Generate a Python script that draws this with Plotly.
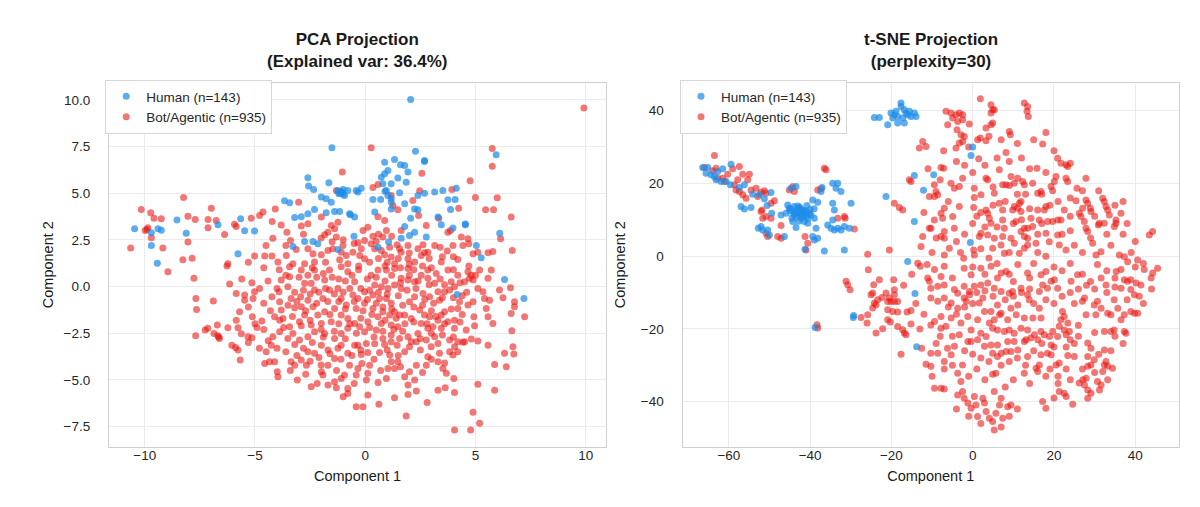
import plotly.graph_objects as go
from plotly.subplots import make_subplots

# PCA panel (component 1, component 2)
pca_human = [
    (-1.51, 7.43), (-2.60, 5.83), (-1.65, 5.56), (-1.09, 5.06), (-1.24, 5.13), (-0.94, 4.88),
    (-0.79, 5.15), (-1.15, 5.00), (-1.00, 5.20), (-2.57, 5.38), (-2.34, 5.20), (-1.99, 4.79),
    (-1.77, 4.70), (-1.54, 4.52), (-0.41, 5.15), (-3.66, 4.59), (-3.43, 4.49), (-2.30, 4.13),
    (-2.60, 3.90), (-2.90, 3.74), (-3.20, 3.70), (-1.77, 3.95), (-1.39, 4.02), (-1.16, 4.02),
    (-0.71, 3.90), (-0.48, 3.72), (-5.65, 3.63), (-5.47, 2.99), (-5.02, 2.97), (-6.68, 3.31),
    (-8.54, 3.56), (-8.12, 2.86), (-10.46, 3.09), (-9.70, 2.88), (-9.40, 3.09), (-9.25, 3.02),
    (-9.70, 2.20), (-3.28, 2.15), (-2.75, 2.41), (-2.37, 2.41), (-2.15, 2.29), (-5.77, 1.75),
    (-9.43, 1.25), (-1.24, 1.99), (-0.51, 2.70), (-0.67, 3.84), (-1.10, 5.10), (-1.20, 4.98),
    (-1.00, 4.95),
    (2.06, 10.02), (2.28, 7.25), (5.94, 7.06), (2.69, 6.70), (2.69, 6.75), (1.33, 6.81),
    (0.88, 6.66), (1.60, 6.52), (1.79, 6.49), (1.94, 6.13), (0.88, 6.04), (0.73, 5.86),
    (1.48, 5.81), (1.86, 5.59), (1.03, 6.22), (1.18, 5.50), (0.80, 5.50), (0.96, 5.15),
    (0.90, 5.10), (1.03, 4.88), (1.18, 4.70), (-0.18, 5.27), (-0.33, 5.06), (0.35, 4.66),
    (0.70, 4.66), (1.18, 4.52), (1.56, 5.02), (1.79, 4.43), (2.39, 4.88), (2.69, 5.00),
    (3.15, 5.06), (3.52, 5.15), (3.75, 4.65), (4.08, 4.66), (4.13, 5.27), (0.43, 3.99),
    (1.18, 4.16), (2.24, 4.16), (2.39, 4.11), (2.06, 3.66), (1.79, 3.22), (1.63, 2.59),
    (2.01, 2.74), (2.24, 2.91), (2.77, 2.65), (3.30, 3.72), (3.45, 3.31), (3.98, 3.13),
    (4.54, 3.31), (4.54, 3.35), (6.10, 2.86), (5.04, 2.20), (5.26, 1.54), (3.87, 4.13),
    (1.06, 2.38), (0.58, 2.11), (6.32, 0.38), (7.20, -0.64), (4.17, -0.42),
]

pca_bot = [
    # upper left
    (-1.04, 6.13), (-1.31, 5.15), (-3.02, 4.52), (-4.08, 4.15), (-4.64, 3.99), (-4.79, 3.81),
    (-5.17, 3.66), (-5.93, 3.33), (-5.85, 3.22), (-6.38, 2.79), (-6.98, 4.20), (-7.13, 3.59),
    (-6.76, 3.54), (-7.13, 3.15), (-7.71, 3.59), (-8.04, 3.77), (-8.24, 4.77), (-10.16, 4.13),
    (-9.73, 3.95), (-9.58, 3.66), (-9.25, 3.63), (-9.86, 3.15), (-9.98, 3.00), (-9.90, 3.05),
    (-9.70, 2.61), (-9.18, 2.06), (-10.64, 2.06), (-8.04, 2.38), (-8.27, 1.43), (-7.85, 1.52),
    (-4.22, 3.49), (-3.81, 3.29), (-3.55, 2.91), (-2.90, 3.24), (-2.60, 3.36), (-1.99, 3.72),
    (-1.54, 3.27), (-1.39, 3.09), (-1.69, 2.91), (-1.84, 2.77), (-1.24, 3.45), (-4.19, 2.59),
    (-3.39, 2.47), (-3.13, 1.99), (-2.60, 2.02), (-2.37, 1.75), (-1.99, 1.70), (-1.69, 1.93),
    (-1.47, 2.02), (-1.09, 1.84), (-0.86, 1.66), (-0.56, 1.84), (-5.02, 1.63), (-4.56, 1.63),
    (-4.23, 1.63), (-3.58, 1.66), (-3.96, 1.31), (-1.31, 2.65), (-1.01, 2.20), (-1.16, 1.43),
    (-0.79, 1.22), (-3.28, 1.22), (-2.75, 1.22), (-2.30, 1.31), (-6.23, 1.22),
    # upper right
    (9.92, 9.57), (0.27, 7.43), (5.76, 7.40), (5.76, 6.45), (2.57, 6.07), (4.76, 5.66),
    (2.47, 5.13), (3.93, 5.20), (0.35, 5.31), (0.58, 5.47), (1.18, 4.88), (5.00, 4.77),
    (5.99, 4.75), (5.46, 4.11), (5.82, 4.11), (4.24, 4.20), (6.62, 3.72), (0.58, 3.74),
    (1.48, 4.11), (1.26, 4.34), (2.16, 4.61), (2.42, 3.81), (2.77, 3.27), (3.34, 3.66),
    (3.75, 2.91), (3.87, 3.00), (4.36, 2.65), (4.66, 2.56), (4.70, 2.29), (6.14, 2.56),
    (6.67, 1.93), (5.79, 1.88), (5.57, 1.81), (4.89, 1.75), (4.20, 1.45), (3.72, 1.90),
    (3.15, 2.20), (2.84, 1.84), (2.62, 2.24), (2.39, 2.02), (1.94, 2.20), (1.56, 2.02),
    (1.45, 2.24), (1.11, 2.11), (0.80, 2.65), (0.96, 3.00), (0.12, 3.18), (-0.10, 3.00),
    (0.35, 2.70), (-0.03, 2.47), (0.27, 2.29), (0.50, 2.42), (-0.33, 2.34), (-0.18, 2.02),
    (0.43, 2.02), (0.73, 1.93), (0.88, 1.70), (1.18, 1.58), (1.63, 1.84), (1.94, 1.49),
    (2.24, 1.31), (2.54, 1.66), (2.69, 1.81), (1.33, 1.22), (-0.03, 1.49), (-0.25, 1.66),
    (3.45, 1.31), (3.98, 2.20), (4.43, 2.20), (5.11, 1.84), (1.63, 3.00), (0.88, 3.54),
    # lower left
    (-8.95, 0.79), (-7.77, 0.44), (-6.27, 1.10), (-6.15, 0.13), (-7.68, -0.64), (-7.65, -1.23),
    (-6.89, -0.78), (-7.69, -2.64), (-7.26, -2.33), (-7.14, -2.24), (-6.86, -2.51), (-6.68, -2.64),
    (-6.61, -2.78), (-6.65, -2.70), (-6.71, -2.06), (-6.23, -2.21), (-5.77, -2.21), (-6.05, -3.14),
    (-5.88, -3.26), (-5.77, -3.40), (-5.67, -3.94), (-5.62, -2.53), (-5.32, -2.69), (-5.14, -2.74),
    (-5.85, -0.37), (-5.47, -0.46), (-5.47, -0.73), (-5.70, -1.35), (-5.85, -1.80), (-5.09, -0.64),
    (-5.12, -1.62), (-4.91, -2.19), (-4.69, -1.85), (-5.02, -0.28), (-4.79, -0.10), (-5.14, 0.20),
    (-4.41, 0.29), (-4.23, -0.55), (-3.91, -0.28), (-3.88, -0.81), (-3.81, -1.26), (-3.81, 0.35),
    (-3.43, 0.52), (-3.51, -0.01), (-3.36, -0.64), (-3.20, -1.14), (-3.73, -1.71), (-3.88, -1.80),
    (-4.11, -1.62), (-3.43, -2.15), (-2.98, -1.89), (-2.75, -1.53), (-2.90, -1.08), (-2.93, -0.55),
    (-2.75, 0.17), (-2.45, 0.17), (-2.30, -0.19), (-1.92, -0.64), (-2.60, -0.73), (-2.37, -1.08),
    (-2.15, -1.53), (-2.45, -2.06), (-1.99, -1.98), (-1.54, -1.89), (-1.84, -1.35), (-1.39, -1.17),
    (-1.09, -1.53), (-0.79, -1.71), (-0.86, -0.99), (-1.09, -0.64), (-1.24, -0.10), (-1.62, -0.19),
    (-1.84, 0.35), (-2.30, 0.88), (-2.90, 0.88), (-3.43, 1.06), (-1.62, 0.88), (-1.09, 1.06),
    (-0.79, 0.79), (-0.48, 0.26), (-0.56, -0.46), (-0.41, -1.17), (-0.48, -1.98), (-0.79, -2.24),
    (-1.09, -2.51), (-1.39, -2.78), (-1.84, -2.51), (-2.30, -2.42), (-2.60, -2.69), (-2.98, -2.87),
    (-3.28, -2.51), (-3.51, -2.78), (-3.88, -2.42), (-4.19, -2.69), (-4.26, -3.14), (-4.49, -3.49),
    (-4.56, -4.12), (-4.34, -4.03), (-4.11, -4.03), (-3.99, -4.56), (-3.96, -4.83), (-3.36, -4.03),
    (-3.20, -4.21), (-2.90, -3.94), (-2.67, -4.21), (-2.60, -3.49), (-2.30, -3.58), (-1.99, -3.14),
    (-1.69, -3.40), (-1.24, -3.31), (-1.09, -3.14), (-0.79, -3.58), (-0.48, -3.14), (-1.39, -3.85),
    (-1.69, -4.21), (-1.99, -4.56), (-1.92, -4.74), (-1.69, -5.28), (-1.39, -5.10), (-1.09, -4.92),
    (-0.94, -4.74), (-0.71, -4.21), (-0.41, -4.74), (-0.79, -5.46), (-0.79, -5.73), (-1.31, -5.42),
    (-2.18, -5.19), (-2.45, -5.37), (-3.08, -5.01), (-0.41, -6.44),
    # lower right
    (5.72, 0.88), (4.66, 0.79), (4.81, 0.61), (4.89, 0.35), (4.73, 0.44), (4.51, 0.26),
    (5.11, -0.10), (5.57, 0.44), (6.09, -0.19), (6.59, -0.06), (6.25, -0.60), (6.77, -0.81),
    (6.77, -1.08), (6.62, -1.44), (7.23, -1.62), (5.41, -0.64), (5.64, -0.73), (5.49, -1.17),
    (5.57, -1.62), (5.79, -1.98), (4.93, -1.62), (4.96, -2.10), (4.58, -2.33), (6.65, -2.37),
    (5.11, -2.92), (4.81, -2.81), (4.43, -2.99), (4.20, -2.96), (5.57, -3.14), (6.70, -3.23),
    (6.32, -3.58), (6.74, -3.62), (5.87, -4.17), (6.40, -4.30), (5.11, -5.24), (5.87, -5.55),
    (4.89, -6.74), (5.19, -7.33), (4.05, -7.69), (4.78, -7.69), (1.86, -6.94), (0.62, -6.31),
    (1.33, -5.96), (1.94, -5.78), (2.81, -6.21), (3.30, -5.55), (3.63, -5.42), (4.05, -5.67),
    (4.02, -4.92), (2.32, -5.60), (2.24, -5.01), (1.94, -5.28), (0.96, -4.92), (0.58, -5.14),
    (0.05, -5.01), (-0.10, -6.44), (0.12, -5.81), (0.12, -4.65), (-0.33, -4.39), (-0.15, -4.12),
    (0.20, -4.21), (0.12, -3.53), (-0.18, -3.64), (0.43, -3.06), (0.88, -3.10), (0.65, -3.53),
    (1.11, -3.67), (1.18, -4.03), (1.03, -4.39), (1.33, -4.39), (1.48, -4.03), (1.18, -2.96),
    (1.45, -3.14), (1.79, -3.49), (2.01, -3.23), (2.01, -4.56), (1.79, -4.83), (2.32, -4.21),
    (2.77, -4.21), (2.84, -3.76), (2.99, -3.23), (3.37, -3.58), (3.30, -4.03), (3.52, -4.39),
    (3.68, -4.65), (3.83, -3.49), (3.98, -3.67), (4.20, -3.49), (4.05, -3.23), (4.51, -2.96),
    (3.83, -2.87), (3.30, -3.05), (3.15, -2.69), (2.77, -2.87), (2.39, -2.51), (2.32, -2.96),
    (2.09, -2.96), (1.94, -2.69), (1.56, -2.78), (1.18, -2.60), (0.80, -2.78), (0.50, -2.33),
    (0.05, -3.05), (-0.33, -3.14), (-0.03, -2.42), (-0.25, -2.15), (0.12, -1.89), (0.58, -1.62),
    (0.73, -1.98), (1.18, -2.06), (1.48, -2.15), (1.56, -1.53), (1.11, -1.53), (0.80, -1.35),
    (0.35, -1.17), (-0.03, -0.90), (-0.33, -0.64), (-0.03, -0.28), (0.35, -0.46), (0.65, -0.64),
    (0.96, -0.64), (1.18, -0.90), (1.33, -1.35), (1.79, -1.53), (2.09, -1.71), (2.47, -1.26),
    (2.69, -1.53), (2.92, -1.62), (3.30, -1.80), (3.45, -1.53), (3.60, -1.35), (3.75, -1.89),
    (4.05, -1.80), (4.05, -2.24), (3.45, -2.24), (3.07, -2.15), (2.84, -2.24), (2.54, -1.98),
    (2.01, -0.81), (2.24, -0.55), (2.62, -0.37), (2.92, -0.55), (3.37, -0.73), (3.30, -0.28),
    (3.60, -0.28), (3.83, -0.19), (3.90, 0.26), (4.05, -0.01), (3.15, 0.17), (2.84, 0.44),
    (2.54, 0.61), (2.24, 0.26), (1.94, 0.35), (1.63, 0.44), (1.63, -0.10), (1.33, 0.08),
    (1.03, -0.10), (0.73, -0.01), (0.43, 0.08), (0.27, 0.61), (0.58, 0.88), (0.96, 0.88),
    (1.33, 0.97), (1.94, 0.97), (2.84, 0.88), (3.22, 0.70), (3.75, 0.88), (4.20, 0.61),
    (4.28, -0.81), (4.20, -1.17), (4.66, -0.99), (4.89, -0.81), (5.19, 0.88), (5.34, -0.28),
    # dense core, overlapping marks
    (-3.0, 0.5), (-2.6, 0.6), (-2.2, 0.5), (-1.9, 0.7), (-1.5, 0.5), (-1.2, 0.4), (-0.9, 0.3),
    (-0.6, 0.6), (-0.3, 0.9), (-3.2, -0.3), (-2.8, -0.2), (-2.5, -0.4), (-2.1, -0.3), (-1.8, -0.1),
    (-1.4, -0.4), (-1.0, -0.3), (-0.7, -0.1), (-0.2, -0.1), (-3.5, -1.0), (-3.1, -0.8), (-2.7, -1.3),
    (-2.2, -0.9), (-1.7, -0.8), (-1.2, -0.8), (-0.9, -1.2), (-0.5, -0.8), (-0.1, -1.3), (-3.3, -1.6),
    (-2.9, -2.1), (-2.5, -1.8), (-2.0, -2.3), (-1.6, -1.5), (-1.2, -2.0), (-0.7, -2.0), (-0.2, -1.7),
    (-3.7, -2.2), (-3.2, -3.1), (-2.8, -3.3), (-2.4, -3.0), (-1.9, -2.7), (-1.4, -2.4), (-0.9, -2.8),
    (-0.4, -2.5), (-3.6, -3.5), (-3.1, -3.7), (-2.5, -4.0), (-2.1, -3.8), (-1.6, -3.6), (-1.1, -3.9),
    (-0.6, -3.7), (-0.2, -3.4), (-4.0, -3.3), (-4.4, -2.9), (-4.6, -2.3), (-4.3, -1.3), (-4.6, -0.9),
    (-4.0, -0.1), (-3.6, 0.6), (-2.0, -4.2), (-1.3, -4.5), (-0.5, -5.2), (-1.0, -5.9), (-2.7, -4.7),
    (-3.4, -4.5), (0.1, 0.4), (0.5, 0.5), (0.9, 0.3), (1.2, 0.6), (1.6, 0.2), (2.0, 0.6), (2.4, 0.3),
    (2.9, 0.1), (3.4, 0.4), (3.6, 0.1), (4.3, 0.2), (4.6, -0.3), (0.2, -0.2), (0.6, -0.3), (1.0, -0.4),
    (1.5, -0.5), (1.9, -0.2), (2.3, -0.1), (2.7, -0.7), (3.1, -0.9), (3.5, -0.6), (4.0, -0.6),
    (4.4, -0.5), (0.1, -0.7), (0.5, -0.9), (0.8, -1.1), (1.2, -1.2), (1.7, -1.0), (2.2, -1.1),
    (2.6, -1.0), (3.0, -1.3), (3.9, -1.2), (4.4, -1.5), (0.3, -1.5), (0.9, -1.8), (1.4, -1.7),
    (1.8, -2.0), (2.2, -1.9), (2.8, -2.0), (3.2, -1.6), (3.6, -2.0), (4.3, -1.9), (0.2, -2.2),
    (0.8, -2.4), (1.3, -2.3), (1.7, -2.4), (2.5, -2.8), (3.0, -2.5), (3.5, -2.6), (4.0, -2.7),
    (0.4, -2.7), (1.0, -3.4), (1.5, -3.7), (2.5, -3.4), (3.0, -3.9), (3.6, -4.1), (0.4, -3.9),
    (0.7, -4.5), (1.6, -4.3), (2.6, -4.6), (0.9, 1.1), (1.6, 1.0), (2.2, 0.9), (2.6, 1.1), (3.0, 1.0),
    (4.0, 0.9), (4.7, 1.1), (5.0, 0.6), (-0.3, 1.1), (0.2, 1.3), (0.6, 1.5), (1.0, 1.3), (1.5, 1.5),
    (2.0, 1.2), (2.9, 1.5), (3.5, 1.6), (-0.5, 2.3), (-1.5, 2.4), (-2.0, 2.6), (-2.8, 2.8),
    (-3.6, 2.2), (-4.5, 2.2), (-1.0, 2.5), (0.6, 2.8), (1.2, 2.7), (2.0, 1.8), (3.4, 2.1), (4.0, 1.6),
    (-1.8, 1.3), (-2.4, 1.0), (-3.9, 0.9), (-4.6, 1.0), (-5.3, 1.3), (-5.6, 0.4), (-5.3, -1.1),
    (-5.0, -2.0), (-4.8, -3.3), (-5.3, -3.0),
]

# t-SNE panel
tsne_human = [
    (-20.10, 39.35), (-18.87, 39.81), (-17.64, 41.18), (-16.82, 40.26), (-15.59, 39.81),
    (-14.36, 39.35), (-15.18, 38.43), (-18.46, 38.43), (-19.69, 37.97), (-17.23, 37.97),
    (-16.00, 38.89), (-20.92, 36.13), (-18.46, 36.59), (-16.82, 36.59), (-13.95, 38.43),
    (-24.20, 38.15), (-22.97, 38.15), (-17.64, 42.10), (-19.28, 38.89), (-16.41, 39.35),
    (-65.20, 24.38), (-66.43, 24.38), (-65.61, 22.82), (-64.38, 22.36), (-63.56, 21.90),
    (-61.92, 20.52), (-62.74, 23.28), (-59.46, 25.30), (-61.51, 24.01), (-60.69, 20.52),
    (-59.62, 19.60), (-63.15, 20.98), (-57.41, 18.87), (-56.18, 19.60), (-57.00, 13.63),
    (-56.18, 12.99), (-54.54, 13.36), (-54.13, 17.03), (-52.49, 16.85), (-51.26, 15.75),
    (-50.60, 13.91), (-49.62, 17.49), (-49.46, 11.80), (-52.08, 8.13), (-52.74, 7.67),
    (-51.67, 7.21), (-50.44, 7.21), (-50.03, 5.83), (-47.16, 11.34), (-44.70, 12.99),
    (-43.88, 13.63), (-43.06, 12.44), (-42.24, 11.80), (-41.01, 12.44), (-39.78, 11.34),
    (-43.88, 11.34), (-44.70, 18.69), (-43.47, 19.14), (-45.52, 14.09), (-45.93, 11.80),
    (-44.29, 9.50), (-43.47, 7.85), (-42.24, 10.42), (-41.42, 9.50), (-40.60, 9.04),
    (-38.96, 10.42), (-38.14, 14.83), (-37.32, 17.77), (-37.07, 18.87), (-34.45, 20.06),
    (-33.22, 20.06), (-33.63, 18.69), (-32.40, 17.77), (-34.45, 14.55), (-34.04, 12.72),
    (-34.45, 9.96), (-35.68, 8.58), (-34.86, 7.67), (-34.04, 7.21), (-33.22, 7.67),
    (-32.40, 7.21), (-31.58, 8.13), (-30.35, 7.67), (-29.94, 14.55), (-39.37, 5.37),
    (-38.96, 4.45), (-38.14, 4.91), (-36.50, 1.42), (-41.26, 1.88), (-31.58, 1.70),
    (-46.34, 5.37), (-42.00, 12.72), (-42.90, 13.17), (-45.11, 13.17), (-39.37, 15.47),
    (-38.55, 7.67), (-42.65, 12.08), (-41.58, 11.34), (-43.47, 10.88), (-40.60, 10.42),
    (-42.49, 13.36), (-41.42, 12.08), (-40.19, 11.80), (-43.0, 12.0), (-42.5, 11.5),
    (-41.8, 12.5), (-43.5, 12.2), (-41.0, 11.0), (-44.0, 11.8), (-40.0, 12.8), (-42.0, 10.8),
    (-43.0, 13.8), (-44.5, 10.5), (-45.0, 12.5), (-39.0, 13.0), (-42.8, 9.6), (-40.8, 13.9),
    (-14.36, 9.50), (-14.36, 22.17), (-12.10, 18.10), (-21.33, 16.39), (-16.00, -1.50),
    (-9.60, 22.36), (0.00, 29.98), (-0.42, 27.68), (-0.58, 3.72), (-29.37, -16.85),
    (-29.30, -16.30), (-38.80, -19.60), (-14.20, -10.24), (-13.79, -24.93),
]

tsne_bot = [
    # left arm and upper left
    (-63.56, 27.68), (-66.02, 24.38), (-63.97, 23.46), (-63.15, 24.19), (-62.74, 21.44),
    (-61.51, 21.44), (-61.10, 20.52), (-60.28, 22.54), (-59.05, 24.01), (-57.41, 24.65),
    (-56.59, 22.54), (-57.82, 20.98), (-58.64, 19.60), (-58.23, 18.22), (-57.41, 17.77),
    (-56.59, 16.85), (-55.36, 20.98), (-54.95, 22.54), (-55.77, 15.93), (-54.54, 18.22),
    (-53.31, 18.69), (-52.90, 16.39), (-52.08, 17.58), (-51.26, 17.95), (-50.85, 17.31),
    (-49.62, 14.55), (-48.80, 15.20), (-51.83, 12.72), (-51.67, 10.42), (-52.08, 12.26),
    (-50.85, 10.88), (-49.62, 10.42), (-47.16, 8.40), (-47.98, 5.37), (-47.16, 4.91),
    (-50.44, 5.37), (-50.85, 6.29), (-45.11, 18.22), (-44.29, 19.05), (-43.88, 17.77),
    (-36.09, 23.74), (-36.50, 24.19), (-38.14, 18.22), (-37.32, 18.50), (-31.58, 10.88),
    (-31.40, 10.40), (-33.22, 10.42), (-29.12, 7.48), (-41.26, 5.37), (-40.60, 3.53),
    (-41.01, 1.70), (-25.84, 0.50), (-20.51, 1.70), (-19.28, 14.55), (-18.05, 13.36),
    (-17.23, 12.72), (-15.59, 20.98), (-15.18, 20.52), (-13.13, 29.71), (-12.31, 31.54),
    (-11.49, 30.16), (-12.72, 2.62), (-12.31, 5.37), (-10.67, 7.67), (-10.67, 16.39),
    (-13.54, -1.98),
    # upper right
    (1.88, 43.30), (4.50, 41.64), (4.91, 40.26), (4.50, 39.35), (5.32, 40.26), (12.70, 42.10),
    (13.52, 41.18), (13.36, 39.81), (13.68, 38.43), (-6.57, 39.81), (-5.34, 39.35), (-4.11, 38.89),
    (-3.29, 39.35), (-2.47, 38.89), (-4.93, 37.97), (-3.70, 37.05), (-6.16, 36.13), (-2.47, 37.51),
    (-0.83, 36.32), (4.91, 36.59), (4.50, 36.13), (3.27, 35.21), (-3.86, 34.75), (-2.88, 33.38),
    (-2.06, 32.92), (-2.47, 31.54), (-3.29, 31.08), (-4.11, 29.71), (-7.14, 28.97), (1.22, 32.00),
    (1.88, 32.46), (3.27, 31.72), (9.01, 34.29), (9.26, 33.38), (17.21, 30.81), (8.19, 28.51),
    (1.47, 26.77), (6.55, 23.74), (15.82, 24.19), (20.90, 26.95), (21.72, 25.57), (22.95, 25.11),
    (24.02, 25.57), (23.36, 24.65), (-7.80, 24.38), (-7.14, 24.19), (-2.47, 21.44), (3.27, 21.44),
    (3.68, 20.98), (8.19, 19.60), (9.01, 19.42), (9.42, 21.90), (11.06, 21.44), (12.29, 20.52),
    (12.70, 19.60), (14.75, 20.06), (10.24, 20.06), (16.80, 17.77), (15.98, 17.31), (20.49, 21.90),
    (20.08, 20.52), (19.26, 19.14), (19.67, 17.95), (22.95, 21.44), (23.36, 20.52), (27.87, 21.44),
    (25.66, 18.69), (-9.44, 19.60), (-9.03, 17.77), (-9.44, 16.39), (-5.34, 20.06), (-4.52, 18.69),
    (-3.29, 19.14), (0.40, 18.69), (0.40, 16.11), (2.04, 16.85), (5.32, 17.31), (7.37, 19.60),
    (11.88, 15.01), (11.47, 14.55), (10.24, 13.63), (9.83, 12.72), (18.03, 13.63), (17.62, 12.72),
    (15.98, 12.72), (25.41, 15.20), (27.87, 15.47), (28.28, 14.55), (28.94, 13.17), (29.10, 12.26),
    (27.05, 13.17), (31.97, 15.93), (32.38, 15.01), (32.79, 13.63), (33.20, 12.72), (33.61, 11.34),
    (36.48, 11.80), (35.25, 9.04), (34.84, 8.13), (31.15, 9.04), (32.38, 9.04), (30.92, 8.58),
    (27.46, 9.50), (27.87, 7.67), (28.28, 6.75), (26.23, 11.80), (26.64, 10.88), (22.54, 12.72),
    (20.90, 9.96), (19.67, 9.50), (18.44, 9.50), (16.39, 9.96), (18.03, 6.29), (14.75, 8.13),
    (13.52, 7.67), (12.70, 7.67), (11.88, 6.75), (12.70, 5.37), (13.52, 4.91), (13.52, 3.08),
    (15.57, 3.53), (18.85, 3.99), (20.90, 5.83), (21.31, 3.08), (22.95, 1.70), (29.51, 3.53),
    (30.33, 0.32), (31.56, 1.24), (36.07, 0.32), (37.30, -0.14), (38.12, -1.52), (40.58, -1.06),
    (43.45, 5.83), (44.27, 6.75), (35.25, 9.96), (11.06, 13.17), (11.88, 12.26), (7.37, 9.96),
    (7.78, 7.67), (7.37, 5.37), (6.96, 3.08), (7.78, 0.78), (9.42, 4.91), (10.24, 3.53),
    (11.47, 0.78), (12.70, 2.16), (4.91, 2.16), (5.32, 4.91), (3.68, 5.83), (2.04, 6.29),
    (1.63, 5.37), (0.24, 1.70), (0.40, 0.32), (-2.22, -0.60), (-6.98, 0.32), (-5.75, 2.16),
    (-6.98, 6.75), (-7.80, 5.37), (-6.98, 4.91), (-4.52, 7.67), (-9.44, 9.96), (-10.26, 7.67),
    (-7.39, 10.42), (-4.93, 10.88), (-3.29, 13.63), (-6.98, 13.17), (-7.80, 11.80), (-8.62, 16.85),
    (0.24, 13.36), (3.27, 12.72), (3.68, 11.80), (4.09, 10.42), (4.50, 9.04), (6.55, 14.55),
    (7.37, 12.72), (10.65, 9.50), (14.34, 10.42), (21.72, 9.96),
    # lower left
    (-38.30, -18.87), (-38.14, -19.79), (-25.68, -3.72), (-31.17, -6.93), (-30.76, -7.85),
    (-30.18, -9.23), (-24.36, -7.85), (-22.97, -6.47), (-19.44, -6.47), (-24.61, -10.15),
    (-25.02, -10.61), (-22.31, -11.34), (-23.38, -11.98), (-24.20, -12.90), (-23.79, -13.36),
    (-24.61, -14.28), (-20.92, -12.44), (-20.10, -12.44), (-19.28, -12.44), (-18.46, -12.44),
    (-20.51, -11.52), (-19.28, -10.61), (-19.28, -9.23), (-21.33, -10.15), (-20.92, -14.74),
    (-19.69, -15.20), (-18.46, -15.38), (-27.48, -16.85), (-25.84, -16.11), (-26.00, -18.41),
    (-23.79, -21.16), (-22.15, -19.97), (-20.92, -17.49), (-20.26, -18.14), (-18.46, -19.33),
    (-17.23, -20.25), (-16.82, -21.16), (-16.41, -21.62), (-16.16, -15.38), (-15.18, -14.92),
    (-15.18, -18.69), (-12.56, -25.30), (-17.64, -26.95), (-11.49, -29.70), (-11.08, -6.01),
    (-10.67, -6.93), (-11.20, -2.30), (-12.90, -2.80),
    # lower right
    (-7.0, -2.8), (-2.1, -3.3), (2.0, -3.3), (4.5, -2.8), (7.0, -4.6), (8.2, -4.2), (11.1, -2.3),
    (13.5, -4.6), (16.8, -5.1), (18.0, -4.2), (19.3, -6.9), (20.1, -6.5), (20.9, -8.8),
    (18.4, -8.8), (16.4, -9.7), (17.2, -7.9), (24.2, -6.9), (25.8, -5.1), (30.7, -2.3),
    (31.6, -6.0), (32.8, -7.9), (35.3, -4.2), (36.5, -3.7), (37.3, -6.5), (38.1, -6.9),
    (38.9, -6.5), (40.2, -7.4), (41.4, -7.9), (42.2, -3.7), (44.3, -4.6), (45.5, -3.3),
    (43.9, -6.0), (38.9, -9.2), (39.8, -10.6), (36.5, -8.8), (-9.4, -3.7), (-7.8, -5.6),
    (-5.0, -6.0), (-8.6, -8.3), (-10.3, -8.8), (-7.0, -7.9), (-4.5, -9.2), (-2.1, -8.3),
    (-0.8, -9.7), (0.4, -8.3), (2.0, -7.9), (3.7, -7.4), (5.3, -8.8), (7.0, -9.7), (9.0, -10.2),
    (9.8, -9.7), (11.9, -8.8), (13.5, -10.6), (6.1, -6.0), (-0.4, -5.1), (-3.7, -10.2),
    (-10.3, -11.5), (-8.6, -12.4), (-7.0, -11.5), (-5.3, -12.9), (-3.7, -14.3), (-2.1, -11.5),
    (-1.6, -12.4), (-0.8, -10.6), (1.6, -12.9), (2.5, -11.5), (2.9, -15.2), (4.5, -15.2),
    (6.1, -13.4), (7.0, -15.7), (6.6, -16.1), (9.4, -14.3), (10.7, -16.1), (11.1, -13.4),
    (13.9, -12.0), (16.4, -14.3), (16.8, -17.0), (14.8, -17.0), (12.7, -17.0), (8.6, -17.5),
    (5.3, -17.5), (4.1, -18.4), (1.2, -17.5), (-1.2, -16.6), (-2.9, -18.4), (-5.3, -17.0),
    (-7.8, -16.6), (-9.4, -18.0), (-10.3, -18.9), (27.5, -11.5), (27.0, -12.4), (29.9, -13.4),
    (30.7, -12.4), (31.6, -14.3), (33.2, -15.7), (34.8, -12.0), (35.7, -14.3), (36.5, -17.5),
    (37.3, -16.1), (38.9, -15.2), (39.8, -15.7), (40.6, -15.7), (22.1, -15.2), (22.5, -16.6),
    (21.7, -17.5), (21.3, -19.3), (23.4, -18.4), (22.5, -20.3), (23.8, -20.7), (23.0, -21.6),
    (20.9, -22.1), (19.7, -20.7), (18.9, -22.1), (17.6, -21.6), (16.8, -20.7), (15.2, -21.6),
    (13.5, -20.3), (14.3, -22.5), (13.1, -23.0), (16.0, -23.0), (11.9, -19.8), (10.2, -21.2),
    (9.0, -20.3), (7.8, -20.7), (6.1, -20.3), (4.9, -19.8), (3.3, -22.1), (2.0, -21.2),
    (-0.4, -20.3), (-1.2, -23.5), (-3.3, -21.6), (-6.6, -19.3), (-7.8, -19.8), (27.9, -16.1),
    (30.3, -16.1), (34.0, -16.1), (32.4, -20.7), (34.0, -20.7), (34.8, -20.3), (37.3, -20.7),
    (37.7, -21.2), (28.3, -23.9), (29.1, -25.3), (28.3, -27.6), (29.9, -28.5), (29.1, -29.9),
    (28.3, -30.3), (27.9, -33.6), (27.1, -34.0), (26.2, -34.9), (27.5, -35.4), (28.3, -36.8),
    (29.1, -37.7), (28.3, -39.1), (30.7, -34.5), (31.6, -35.4), (31.2, -36.8), (32.4, -25.8),
    (32.8, -29.0), (32.4, -29.9), (33.2, -30.3), (34.4, -30.8), (33.2, -34.0), (32.0, -31.7),
    (25.0, -27.6), (23.4, -27.3), (16.8, -27.1), (16.4, -29.9), (15.6, -30.8), (16.0, -31.7),
    (18.4, -26.7), (19.3, -27.1), (19.3, -24.4), (20.5, -29.9), (21.3, -29.4), (21.3, -37.2),
    (22.5, -37.7), (23.0, -38.6), (24.6, -40.7), (17.2, -40.0), (18.0, -41.8), (12.7, -32.2),
    (13.5, -27.6), (11.1, -25.8), (9.4, -26.2), (8.2, -26.2), (7.0, -26.7), (6.1, -27.6),
    (4.9, -26.7), (4.5, -24.4), (2.9, -24.8), (1.2, -23.0), (-0.4, -23.5), (-2.5, -29.9),
    (-3.7, -32.2), (-2.9, -34.5), (-2.5, -37.2), (-3.7, -38.2), (-10.3, -26.7), (-8.6, -26.7),
    (-6.2, -25.3), (-5.3, -27.1), (-4.5, -24.8), (-10.3, -30.3), (-9.4, -36.3), (-7.8, -36.3),
    (-7.0, -36.5), (4.9, -32.5), (5.7, -32.2), (0.4, -38.6), (0.8, -40.9), (-0.4, -41.8),
    (-1.2, -40.4), (-2.1, -39.1), (2.5, -39.1), (2.9, -40.4), (3.3, -42.7), (1.2, -44.1),
    (4.1, -44.6), (4.9, -45.5), (5.3, -47.8), (5.7, -43.2), (7.0, -39.1), (6.6, -40.9),
    (7.4, -44.6), (8.6, -41.4), (9.4, -40.9), (5.3, -37.2), (10.2, -23.5), (6.1, -24.4),
    (12.7, -23.5), (8.6, -23.5),
    # further marks in the crowded centre
    (-6, -14), (-4, -16), (-2, -14), (0, -13), (1, -10), (3, -9.5), (5, -11), (8, -12), (10, -11),
    (12, -10), (14, -9), (15, -13), (18, -12), (20, -13), (22, -11), (24, -10), (25, -13), (26, -9),
    (28, -8), (30, -9), (33, -10), (35, -8.5), (-8, -22), (-5, -22), (-2, -26), (0, -27), (2, -28),
    (4, -29), (7, -30), (9, -29), (11, -28), (13, -30), (15, -26), (17, -24), (19, -31), (21, -33),
    (23, -31), (24, -34), (25, -24), (26, -22), (24, -23), (20, -25), (18, -33), (14, -35),
    (10, -34), (8, -36), (3, -34), (1, -31), (-1, -33), (-5, -30), (-7, -29), (0, -3), (3, -5),
    (6, -2), (9, -5), (10, -7), (14, -6), (15, -2), (20, -3), (22, -4), (24, -2), (27, -5), (29, -7),
    (33, -4), (35, -6), (40, -3), (41, -11), (38, -12), (42, -13), (44, -9), (42, -2), (39, 1),
    (34, 3), (33, 6), (35, 14), (37, 15), (31, 18), (27, 18), (24, 16), (21, 15), (19, 14), (17, 17),
    (13, 17), (11, 17), (8, 15), (5, 14), (2, 12), (0, 9), (-2, 6), (-4, 4), (-3, 1), (2, 2),
    (4, -0.5), (9, 1), (16, 1), (18, 0), (25, 3), (27, 1), (29, 5), (24, 7), (22, 6), (16, 6), (10, 9),
    (6, 8), (3, 8), (1, 11), (12, 10), (14, 13), (17, 9), (24, 11), (30, 11), (37, 6), (40, 4),
    (38, 9), (-4, 26), (-2, 25), (0, 23), (3, 25), (6, 27), (9, 26), (12, 27), (11, 31), (7, 32),
    (4, 33), (-1, 30), (15, 32), (18, 34), (20, 29), (14, 24), (18, 23), (5, 19), (-6, 15), (-8, 21),
    (-11, 24), (-12, 12), (-9, 5), (-10, 1), (-15, -5), (-17, -8), (-14, -13), (-12, -16),
    (-13, -20), (-9, -24), (-7, -31), (-10, -33), (-4, -42), (-1, -44), (2, -46), (7, -47), (9, -44),
    (11, -42), (20, -39), (21, -35), (27, -31), (31, -27), (30, -32), (34, -26), (37, -24),
    (35, -22), (30, -21), (26, -19), (23, -25),
]

human_label = "Human (n=143)"
bot_label = "Bot/Agentic (n=935)"
titles = ["<b>PCA Projection<br>(Explained var: 36.4%)</b>", "<b>t-SNE Projection<br>(perplexity=30)</b>"]

HUMAN_COLOR = "rgba(30,140,232,0.72)"
BOT_COLOR = "rgba(232,20,16,0.58)"
FONT = "Liberation Sans, Arial, sans-serif"

fig = make_subplots(rows=1, cols=2)

panels = [(pca_human, pca_bot, "legend"), (tsne_human, tsne_bot, "legend2")]
for col, (hum, bot, leg) in enumerate(panels, 1):
    fig.add_trace(go.Scatter(
        x=[p[0] for p in bot], y=[p[1] for p in bot], mode="markers", name=bot_label,
        marker=dict(size=7, color=BOT_COLOR, line=dict(width=0)),
        legend=leg, legendrank=2), row=1, col=col)
    fig.add_trace(go.Scatter(
        x=[p[0] for p in hum], y=[p[1] for p in hum], mode="markers", name=human_label,
        marker=dict(size=7, color=HUMAN_COLOR, line=dict(width=0)),
        legend=leg, legendrank=1), row=1, col=col)

axis_style = dict(
    showgrid=True, gridcolor="#ebebeb", gridwidth=1, zeroline=False,
    showline=True, mirror=True, linecolor="#cfcfcf", linewidth=1.3,
    ticks="", tickfont=dict(size=13.5, color="#262626", family=FONT),
    title_font=dict(size=14.5, color="#1a1a1a", family=FONT),
)

fig.update_xaxes(**axis_style)
fig.update_yaxes(**axis_style)

fig.update_xaxes(domain=[0.0842, 0.4983], range=[-11.62, 10.92], tickvals=[-10, -5, 0, 5, 10],
                 title_text="Component 1", title_standoff=8, ticklabelstandoff=-4, row=1, col=1)
fig.update_yaxes(domain=[0.1347, 0.8527], range=[-8.58, 10.92], dtick=2.5, tick0=0, tickformat=".1f",
                 title_text="Component 2", title_standoff=6, ticklabelstandoff=15, row=1, col=1)
fig.update_xaxes(domain=[0.5621, 0.9758], range=[-71.4, 50.75], dtick=20, tick0=0,
                 title_text="Component 1", title_standoff=8, ticklabelstandoff=-4, row=1, col=2)
fig.update_yaxes(domain=[0.1347, 0.8527], range=[-52.4, 47.7], dtick=20, tick0=0,
                 title_text="Component 2", title_standoff=11, ticklabelstandoff=15, row=1, col=2)

legend_style = dict(
    xanchor="left", yanchor="top", bgcolor="rgba(255,255,255,0.85)",
    bordercolor="#d6d6d6", borderwidth=1, font=dict(size=13.5, color="#262626", family=FONT),
    tracegroupgap=0, itemwidth=30,
)

fig.update_layout(
    width=1200, height=507,
    margin=dict(l=0, r=0, t=0, b=0),
    paper_bgcolor="white", plot_bgcolor="white",
    font=dict(family=FONT, color="#262626"),
    legend=dict(x=0.081, y=0.858, **legend_style),
    legend2=dict(x=0.560, y=0.858, **legend_style),
    annotations=[
        dict(text=titles[0], x=0.2912, y=0.917, xref="paper", yref="paper", showarrow=False,
             xanchor="center", yanchor="middle", font=dict(size=17, color="#1a1a1a", family=FONT)),
        dict(text=titles[1], x=0.769, y=0.917, xref="paper", yref="paper", showarrow=False,
             xanchor="center", yanchor="middle", font=dict(size=17, color="#1a1a1a", family=FONT)),
    ],
)

fig.write_html("out.html")
